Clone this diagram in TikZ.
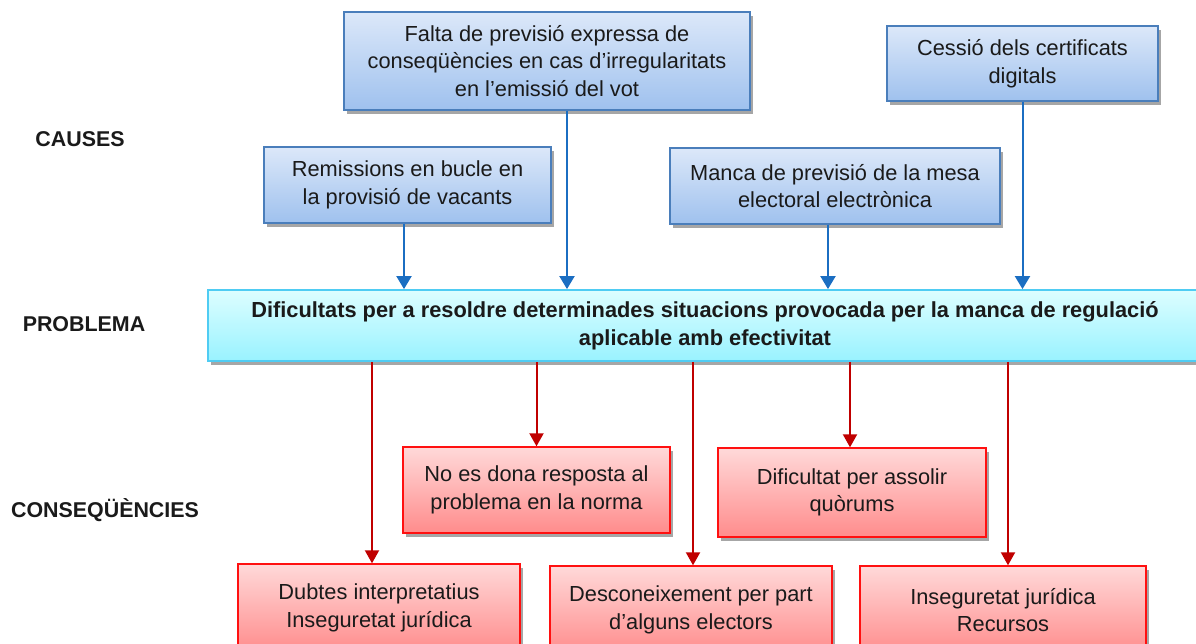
\documentclass[tikz,border=0pt]{standalone}
\usepackage{fontspec}
\setmainfont{Liberation Sans}
\usetikzlibrary{shadows,arrows.meta}
\definecolor{bluetop}{HTML}{DCE8F9}
\definecolor{bluebot}{HTML}{9FC1EE}
\definecolor{blueedge}{HTML}{4A7EBB}
\definecolor{cyantop}{HTML}{DDFEFF}
\definecolor{cyanbot}{HTML}{99F2FF}
\definecolor{cyanedge}{HTML}{4FCCF3}
\definecolor{redtop}{HTML}{FFD9D9}
\definecolor{redbot}{HTML}{FF8C8C}
\definecolor{rededge}{HTML}{FF1010}
\definecolor{bluearrow}{HTML}{1B6EC2}
\definecolor{redarrow}{HTML}{C00000}
\definecolor{txt}{HTML}{1A1A1A}
\begin{document}
\begin{tikzpicture}[x=1pt,y=-1pt,
  box/.style={draw, line width=1.4pt, align=center, inner sep=0pt, text=txt,
    font=\fontsize{21.8}{27.5}\selectfont,
    drop shadow={shadow xshift=3pt, shadow yshift=-4pt, opacity=0.35, fill=black}},
  causebox/.style={box, draw=blueedge, top color=bluetop, bottom color=bluebot},
  probbox/.style={box, draw=cyanedge, line width=1.8pt, top color=cyantop, bottom color=cyanbot,
    font=\bfseries\fontsize{21.8}{28}\selectfont},
  consbox/.style={box, draw=rededge, top color=redtop, bottom color=redbot},
  lab/.style={font=\bfseries\fontsize{21.4}{25}\selectfont, text=txt},
  barrow/.style={draw=bluearrow, line width=2pt, -{Triangle[width=15pt,length=13pt]}, color=bluearrow},
  rarrow/.style={draw=redarrow, line width=2pt, -{Triangle[width=14pt,length=13pt]}, color=redarrow}
]
\useasboundingbox[fill=white] (0,0) rectangle (1196,644);

% labels
\node[lab] (lcauses) at (80,139) {CAUSES};
\node[lab] (lprob) at (84,324) {PROBLEMA};
\node[lab] (lcons) at (105,510) {CONSEQÜÈNCIES};

% causes
\node[causebox, minimum width=406pt, minimum height=98pt] (falta) at (547,61)
  {Falta de previsió expressa de\\conseqüències en cas d’irregularitats\\en l’emissió del vot};
\node[causebox, minimum width=271pt, minimum height=75pt] (cessio) at (1022.5,63.5)
  {Cessió dels certificats\\digitals};
\node[causebox, minimum width=287pt, minimum height=76pt] (remis) at (407.5,185)
  {Remissions en bucle en\\la provisió de vacants};
\node[causebox, minimum width=330pt, minimum height=76pt] (manca) at (835,186)
  {Manca de previsió de la mesa\\electoral electrònica};

% problem
\node[probbox, minimum width=994pt, minimum height=71pt] (problem) at (705,325.5)
  {Dificultats per a resoldre determinades situacions provocada per la manca de regulació\\aplicable amb efectivitat};

% consequences
\node[consbox, minimum width=267pt, minimum height=86pt] (nodona) at (536.5,490)
  {No es dona resposta al\\problema en la norma};
\node[consbox, minimum width=268pt, minimum height=89pt] (dificultat) at (852,492.5)
  {Dificultat per assolir\\quòrums};
\node[consbox, minimum width=282pt, minimum height=88pt] (dubtes) at (379,608)
  {Dubtes interpretatius\\Inseguretat jurídica};
\node[consbox, minimum width=282pt, minimum height=88pt] (descon) at (691,610)
  {Desconeixement per part\\d’alguns electors};
\node[consbox, minimum width=286pt, minimum height=88pt] (insegur) at (1003,610)
  {Inseguretat jurídica\\Recursos};

% cause arrows
\draw[barrow] ([xshift=-3.5pt]remis.south) -- ([xshift=-3.5pt]remis.south |- problem.north);
\draw[barrow] ([xshift=20pt]falta.south) -- ([xshift=20pt]falta.south |- problem.north);
\draw[barrow] ([xshift=-7pt]manca.south) -- ([xshift=-7pt]manca.south |- problem.north);
\draw[barrow] (cessio.south) -- (cessio.south |- problem.north);

% consequence arrows
\draw[rarrow] ([xshift=-7pt]dubtes.north |- problem.south) -- ([xshift=-7pt]dubtes.north);
\draw[rarrow] (nodona.north |- problem.south) -- (nodona.north);
\draw[rarrow] ([xshift=2pt]descon.north |- problem.south) -- ([xshift=2pt]descon.north);
\draw[rarrow] ([xshift=-2pt]dificultat.north |- problem.south) -- ([xshift=-2pt]dificultat.north);
\draw[rarrow] ([xshift=5pt]insegur.north |- problem.south) -- ([xshift=5pt]insegur.north);
\end{tikzpicture}
\end{document}
